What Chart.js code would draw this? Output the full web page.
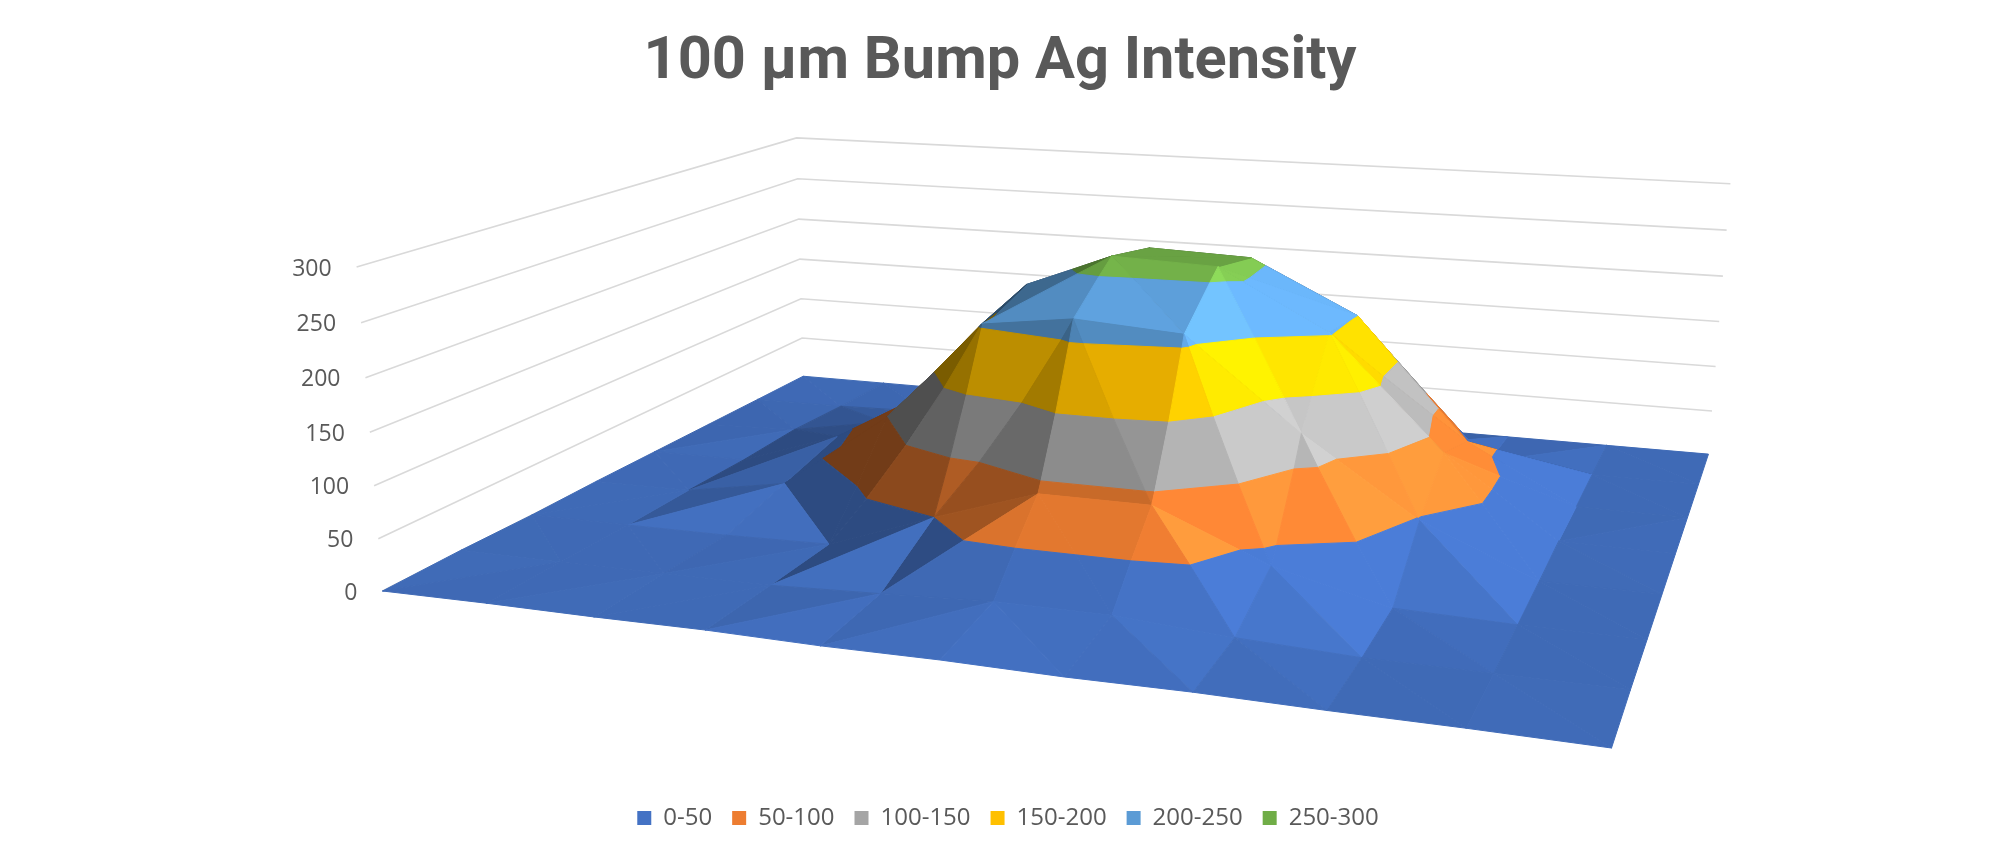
<!DOCTYPE html>
<html>
<head>
<meta charset="utf-8">
<title>100 µm Bump Ag Intensity</title>
<script src="https://cdn.jsdelivr.net/npm/chart.js@4"></script>
<style>
body { margin: 0; background: #fff; }
</style>
</head>
<body>
<canvas id="myChart" width="2000" height="860"></canvas>
<script>
// bands and axis
var bandNames = ["0-50", "50-100", "100-150", "150-200", "200-250", "250-300"];
var bandColors = [[68,114,196], [237,125,49], [165,165,165], [255,192,0], [91,155,213], [112,173,71]];
var zTicks = [0, 50, 100, 150, 200, 250, 300];

// intensity, front row first, 11 columns
var row0 = [0, 1, 1, 2, 1, 2, 1, 2, 1, 1, 0];
var row1 = [1, 1, 2, 3, 8, 14, 14, 6, 1, 1, 1];
var row2 = [0, 1, 2, 5, 50, 90, 90, 36, 4, 1, 1];
var row3 = [1, 2, 20, 100, 203, 216, 209, 122, 48, 1, 1];
var row4 = [1, 2, 40, 105, 230, 268, 264, 203, 85, 2, 1];
var row5 = [1, 5, 25, 60, 190, 262, 258, 200, 65, 1, 1];
var row6 = [1, 2, 5, 8, 30, 75, 60, 15, 6, 1, 1];
var row7 = [1, 1, 1, 1, 1, 1, 1, 1, 1, 1, 1];
var rows = [row0, row1, row2, row3, row4, row5, row6, row7];

// camera: where the floor corners land, and where the verticals meet
var c0 = [382, 591], c1 = [1612, 748], c2 = [1709, 455], c3 = [803, 377];
var vanish = [1036, 8765];
var zPersp = -0.0001271;
var rowFit = [1, 0.9, 0.85, 1, 0.95, 0.92, 0.9, 1];

var dx1 = c1[0]-c2[0], dx2 = c3[0]-c2[0], dx3 = c0[0]-c1[0]+c2[0]-c3[0];
var dy1 = c1[1]-c2[1], dy2 = c3[1]-c2[1], dy3 = c0[1]-c1[1]+c2[1]-c3[1];
var det = dx1*dy2 - dx2*dy1;
var g = (dx3*dy2 - dx2*dy3)/det;
var h = (dx1*dy3 - dx3*dy1)/det;

function depth(u, v) { return 1 + g*u + h*v; }

function project(u, v, z) {
    var w = depth(u, v) + zPersp*z;
    var nx = (c1[0]-c0[0]+g*c1[0])*u + (c3[0]-c0[0]+h*c3[0])*v + c0[0] + zPersp*vanish[0]*z;
    var ny = (c1[1]-c0[1]+g*c1[1])*u + (c3[1]-c0[1]+h*c3[1])*v + c0[1] + zPersp*vanish[1]*z;
    return {x: nx/w, y: ny/w};
}

function surfacePoint(p) {
    var u = p[0]/10, v = p[1]/7;
    var fit = rowFit[Math.floor(p[1])] + (rowFit[Math.ceil(p[1])]-rowFit[Math.floor(p[1])])*(p[1]-Math.floor(p[1]));
    var z = p[2]*fit;
    var q = project(u, v, z);
    var lean = Math.max(-1, Math.min(1, (u-0.4)/0.1));
    q.x -= 0.07*z*lean;
    return q;
}

function clip(poly, limit, keepAbove) {
    var out = [];
    for (var n = 0; n < poly.length; n++) {
        var a = poly[n], b = poly[(n+1) % poly.length];
        var aIn = keepAbove ? a[2] >= limit : a[2] <= limit;
        var bIn = keepAbove ? b[2] >= limit : b[2] <= limit;
        if (aIn) out.push(a);
        if (aIn != bIn) {
            var t = (limit-a[2])/(b[2]-a[2]);
            out.push([a[0]+(b[0]-a[0])*t, a[1]+(b[1]-a[1])*t, limit]);
        }
    }
    return out;
}

function shade(p, q) {
    var s = Math.sqrt(p*p + q*q + 10000);
    var nx = -p/s, ny = -q/s, nz = 100/s;
    var f = (nx < 0 ? 0.75 : 0.924)*nx - 0.44*ny + 0.93*Math.pow(nz, 1.3);
    if (f > 1) f = 1 + (f-1)*0.85;
    return Math.max(0.48, Math.min(1.4, f));
}

var facets = [];
function addTriangle(tri, p, q) {
    var f = shade(p, q);
    var far = (depth(tri[0][0]/10, tri[0][1]/7) + depth(tri[1][0]/10, tri[1][1]/7) + depth(tri[2][0]/10, tri[2][1]/7))/3;
    for (var b = 0; b < bandNames.length; b++) {
        var poly = clip(clip(tri, b*50, true), (b+1)*50, false);
        if (poly.length < 3) continue;
        var pts = poly.map(surfacePoint);
        pts.push(pts[0]);
        var col = bandColors[b];
        var k = b == 0 ? Math.max(0.66, Math.min(f, 1.1)) : f; // the floor stays in a narrower range than the dome
        var css = "rgb(" + Math.min(255, col[0]*k) + "," + Math.min(255, col[1]*k) + "," + Math.min(255, col[2]*k) + ")";
        facets.push({
            far: far,
            data: pts,
            showLine: true,
            fill: "shape",
            clip: false,
            borderWidth: 1,
            borderColor: css,
            pointRadius: 0,
            backgroundColor: css
        });
    }
}

for (var j = 0; j < rows.length-1; j++) {
    for (var i = 0; i < 10; i++) {
        var a = rows[j][i], b = rows[j][i+1], d = rows[j+1][i], e = rows[j+1][i+1];
        // each cell is split along its steeper diagonal, the one cell left of the ridge goes the other way
        var flip = i == 2 && j == 2;
        if (Math.abs(b-d) >= Math.abs(a-e) || flip) {
            addTriangle([[i,j,a], [i+1,j,b], [i,j+1,d]], b-a, d-a);
            addTriangle([[i+1,j,b], [i+1,j+1,e], [i,j+1,d]], e-d, e-b);
        } else {
            addTriangle([[i,j,a], [i+1,j,b], [i+1,j+1,e]], b-a, e-b);
            addTriangle([[i,j,a], [i+1,j+1,e], [i,j+1,d]], e-d, d-a);
        }
    }
}
// first dataset is painted last, so nearest facets go first
facets.sort(function(p, q) { return p.far - q.far; });

var legendSets = bandNames.map(function(name, n) {
    var c = bandColors[n];
    return {label: name, data: [], backgroundColor: "rgb(" + c.join(",") + ")", borderWidth: 0};
});

var gridSets = zTicks.map(function(z) {
    return {
        data: [project(0,0,z), project(0,1,z), project(1,1,z)],
        showLine: true,
        clip: false,
        pointRadius: 0,
        borderWidth: 1.6,
        borderColor: "#d9d9d9"
    };
});

var zLabels = {
    id: "zLabels",
    afterLayout: function(chart) {
        chart.legend.left += 8;
        chart.legend.right += 8;
    },
    afterDraw: function(chart) {
        var ctx = chart.ctx;
        ctx.save();
        ctx.font = '23px "Open Sans"';
        ctx.fillStyle = "#595959";
        ctx.textAlign = "right";
        ctx.textBaseline = "middle";
        zTicks.forEach(function(z) {
            var p = project(0, 0, z);
            ctx.fillText(String(z), chart.scales.x.getPixelForValue(p.x) - 25, chart.scales.y.getPixelForValue(p.y) + 2);
        });
        ctx.restore();
    }
};

var chart = new Chart("myChart", {
    type: "scatter",
    data: {datasets: legendSets.concat(facets, gridSets)},
    plugins: [zLabels],
    options: {
        responsive: false,
        animation: false,
        events: [],
        layout: {padding: {bottom: 20}},
        scales: {
            x: {display: false, min: 0, max: 2000},
            y: {display: false, reverse: true, min: 0, max: 860}
        },
        plugins: {
            tooltip: {enabled: false},
            title: {
                display: true,
                text: "100 µm Bump Ag Intensity",
                color: "#595959",
                font: {family: "Roboto", size: 59.5, weight: "bold"},
                padding: {top: 27, bottom: 8}
            },
            legend: {
                position: "bottom",
                labels: {
                    color: "#595959",
                    font: {family: "Open Sans", size: 24},
                    boxWidth: 14,
                    boxHeight: 14,
                    padding: 20,
                    filter: function(item) { return item.text; }
                }
            }
        }
    }
});
// use canvas pixels as scale units for the projected points
chart.options.scales.x.min = chart.chartArea.left;
chart.options.scales.x.max = chart.chartArea.right;
chart.options.scales.y.min = chart.chartArea.top;
chart.options.scales.y.max = chart.chartArea.bottom;
chart.update();
</script>
</body>
</html>
